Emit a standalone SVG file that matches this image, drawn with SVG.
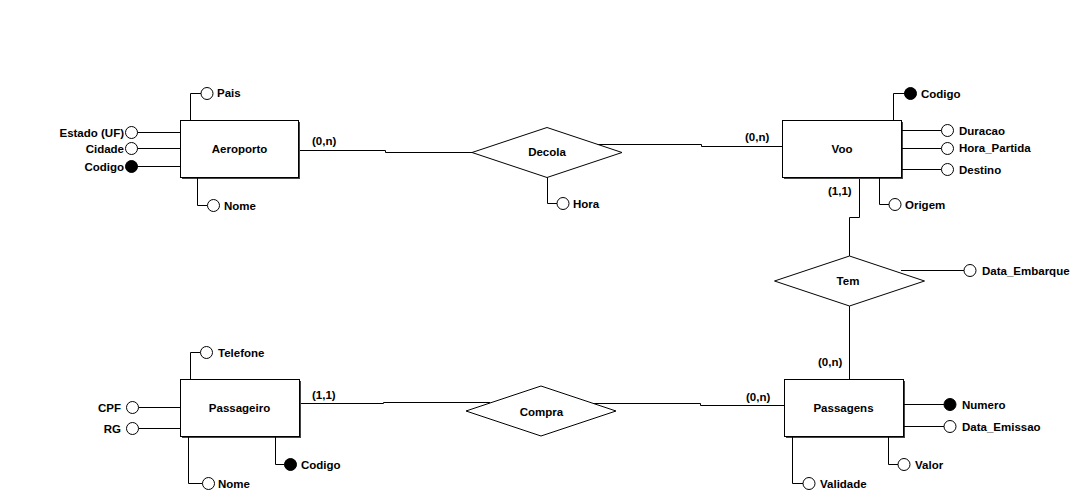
<svg xmlns="http://www.w3.org/2000/svg" width="1081" height="494" viewBox="0 0 1081 494">
<style>
text{font-family:"Liberation Sans",Arial,sans-serif;font-weight:bold;font-size:11.5px;fill:#000}
.c{text-anchor:middle}
.e{text-anchor:end}
.box{fill:#fff;stroke:#000;stroke-width:1}
.sh{fill:#444}
.dia{fill:#fff;stroke:#000;stroke-width:1}
.ln{fill:none;stroke:#000;stroke-width:1}
.a{fill:#fff;stroke:#000;stroke-width:1}
.k{fill:#000;stroke:#000;stroke-width:1}
</style>
<rect width="1081" height="494" fill="#fff"/>
<g id="connectors">
<path class="ln" d="M298 150.5H385.5V152.5H472"/>
<path class="ln" d="M597 144.5H701.5V146.5H782"/>
<path class="ln" d="M859.5 177V217.5H849.5V256"/>
<path class="ln" d="M849.5 306V379"/>
<path class="ln" d="M300 403.5H383.5V402.5H490"/>
<path class="ln" d="M593 403.5H700.5V405.5H784"/>
<text x="312" y="145">(0,n)</text>
<text x="745" y="141">(0,n)</text>
<text x="828" y="195">(1,1)</text>
<text x="818" y="366">(0,n)</text>
<text x="746" y="401">(0,n)</text>
<text x="312" y="399">(1,1)</text>
</g>
<g id="aeroporto">
<rect class="sh" x="182" y="122" width="118" height="57"/>
<rect class="box" x="180.5" y="120.5" width="118" height="57"/>
<text class="c" x="239.5" y="153">Aeroporto</text>
<path class="ln" d="M190.5 120V93.5H201"/>
<circle class="a" cx="207" cy="93.5" r="6"/>
<text x="217" y="97">Pais</text>
<path class="ln" d="M137 132.5H180M137 148.5H180M137 166.5H180"/>
<circle class="a" cx="131.5" cy="132.5" r="6"/>
<circle class="a" cx="131.5" cy="148.5" r="6"/>
<circle class="k" cx="131.5" cy="166.5" r="6"/>
<text class="e" x="124" y="137">Estado (UF)</text>
<text class="e" x="124" y="152.5">Cidade</text>
<text class="e" x="124" y="170.5">Codigo</text>
<path class="ln" d="M197.5 178V205.5H207.5"/>
<circle class="a" cx="213.5" cy="205.5" r="6"/>
<text x="224" y="209.5">Nome</text>
</g>
<g id="decola">
<polygon class="dia" points="472,152.5 547,127.5 622,152.5 547,177.5"/>
<text class="c" x="547" y="156">Decola</text>
<path class="ln" d="M547.5 177.5V203.5H557"/>
<circle class="a" cx="563" cy="203.5" r="6"/>
<text x="573" y="207.5">Hora</text>
</g>
<g id="voo">
<rect class="sh" x="784" y="122" width="119" height="57"/>
<rect class="box" x="782.5" y="120.5" width="119" height="57"/>
<text class="c" x="842" y="153">Voo</text>
<path class="ln" d="M893.5 120V93.5H905"/>
<circle class="k" cx="910.5" cy="93.5" r="6"/>
<text x="921" y="97.5">Codigo</text>
<path class="ln" d="M902 130.5H941.5M902 148.5H941.5M902 169.5H941.5"/>
<circle class="a" cx="947.5" cy="130.5" r="6"/>
<circle class="a" cx="947.5" cy="148.5" r="6"/>
<circle class="a" cx="947.5" cy="169.5" r="6"/>
<text x="959" y="134.5">Duracao</text>
<text x="959" y="152">Hora_Partida</text>
<text x="959" y="173.5">Destino</text>
<path class="ln" d="M879.5 178V204.5H889"/>
<circle class="a" cx="895" cy="204.5" r="6"/>
<text x="905" y="208.5">Origem</text>
</g>
<g id="tem">
<polygon class="dia" points="774.5,281 849.5,256 924.5,281 849.5,306"/>
<text class="c" x="848" y="285">Tem</text>
<path class="ln" d="M901 270.5H964"/>
<circle class="a" cx="970" cy="270.5" r="6"/>
<text x="982" y="275">Data_Embarque</text>
</g>
<g id="passageiro">
<rect class="sh" x="182" y="381" width="119" height="57"/>
<rect class="box" x="180.5" y="379.5" width="119" height="57"/>
<text class="c" x="239.5" y="412">Passageiro</text>
<path class="ln" d="M190.5 379V352.5H200.5"/>
<circle class="a" cx="206.5" cy="352.5" r="6"/>
<text x="218" y="357">Telefone</text>
<path class="ln" d="M138.5 407.5H180M138.5 428.5H180"/>
<circle class="a" cx="132.5" cy="407.5" r="6"/>
<circle class="a" cx="132.5" cy="428.5" r="6"/>
<text class="e" x="121" y="412">CPF</text>
<text class="e" x="121" y="432.5">RG</text>
<path class="ln" d="M188.5 437V483.5H202.5"/>
<circle class="a" cx="208.5" cy="483.5" r="6"/>
<text x="218" y="487.5">Nome</text>
<path class="ln" d="M275.5 437V464.5H284.5"/>
<circle class="k" cx="290.5" cy="464.5" r="6"/>
<text x="301" y="468.5">Codigo</text>
</g>
<g id="compra">
<polygon class="dia" points="466,411 541,386 616,411 541,436"/>
<text class="c" x="541.5" y="415.5">Compra</text>
</g>
<g id="passagens">
<rect class="sh" x="786" y="381" width="119" height="57"/>
<rect class="box" x="784.5" y="379.5" width="119" height="57"/>
<text class="c" x="843.5" y="412">Passagens</text>
<path class="ln" d="M904 404.5H944M904 426.5H944"/>
<circle class="k" cx="950" cy="404.5" r="6"/>
<circle class="a" cx="950" cy="426.5" r="6"/>
<text x="962" y="408.5">Numero</text>
<text x="962" y="430.5">Data_Emissao</text>
<path class="ln" d="M888.5 437V464.5H898"/>
<circle class="a" cx="904" cy="464.5" r="6"/>
<text x="915" y="468.5">Valor</text>
<path class="ln" d="M792.5 437V483.5H803"/>
<circle class="a" cx="809" cy="483.5" r="6"/>
<text x="820" y="487.5">Validade</text>
</g>
</svg>
